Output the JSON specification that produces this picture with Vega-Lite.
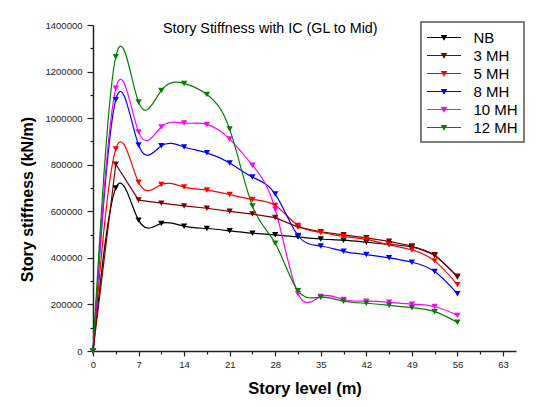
{
  "$schema": "https://vega.github.io/schema/vega-lite/v6.json",
  "width": 423,
  "height": 326,
  "autosize": {"type": "none"},
  "padding": {"left": 93, "top": 25, "right": 29, "bottom": 56},
  "background": "white",
  "config": {
    "view": {"stroke": null},
    "font": "Liberation Sans",
    "legend": {"strokeWidth": 1.5}
  },
  "title": {
    "text": "Story Stiffness with IC (GL to Mid)",
    "frame": "group",
    "anchor": "start",
    "dx": 70,
    "offset": 0,
    "baseline": "alphabetic",
    "dy": 27,
    "fontSize": 14.3,
    "fontWeight": "normal",
    "color": "#000000",
    "font": "Liberation Sans"
  },
  "data": {
    "values": [
      {"s": "NB", "x": 0, "y": 0}, {"s": "NB", "x": 3.5, "y": 700000}, {"s": "NB", "x": 7, "y": 562000}, {"s": "NB", "x": 10.5, "y": 548000}, {"s": "NB", "x": 14, "y": 536000}, {"s": "NB", "x": 17.5, "y": 526000}, {"s": "NB", "x": 21, "y": 516000}, {"s": "NB", "x": 24.5, "y": 506000}, {"s": "NB", "x": 28, "y": 499000}, {"s": "NB", "x": 31.5, "y": 490000}, {"s": "NB", "x": 35, "y": 481000}, {"s": "NB", "x": 38.5, "y": 476000}, {"s": "NB", "x": 42, "y": 467000}, {"s": "NB", "x": 45.5, "y": 458000}, {"s": "NB", "x": 49, "y": 447000}, {"s": "NB", "x": 52.5, "y": 410000}, {"s": "NB", "x": 56, "y": 318000},
      {"s": "3 MH", "x": 0, "y": 0}, {"s": "3 MH", "x": 3.5, "y": 802000}, {"s": "3 MH", "x": 7, "y": 648000}, {"s": "3 MH", "x": 10.5, "y": 635000}, {"s": "3 MH", "x": 14, "y": 623000}, {"s": "3 MH", "x": 17.5, "y": 613000}, {"s": "3 MH", "x": 21, "y": 600000}, {"s": "3 MH", "x": 24.5, "y": 588000}, {"s": "3 MH", "x": 28, "y": 573000}, {"s": "3 MH", "x": 31.5, "y": 532000}, {"s": "3 MH", "x": 35, "y": 512000}, {"s": "3 MH", "x": 38.5, "y": 499000}, {"s": "3 MH", "x": 42, "y": 486000}, {"s": "3 MH", "x": 45.5, "y": 471000}, {"s": "3 MH", "x": 49, "y": 451000}, {"s": "3 MH", "x": 52.5, "y": 413000}, {"s": "3 MH", "x": 56, "y": 321000},
      {"s": "5 MH", "x": 0, "y": 0}, {"s": "5 MH", "x": 3.5, "y": 867000}, {"s": "5 MH", "x": 7, "y": 725000}, {"s": "5 MH", "x": 10.5, "y": 715000}, {"s": "5 MH", "x": 14, "y": 704000}, {"s": "5 MH", "x": 17.5, "y": 691000}, {"s": "5 MH", "x": 21, "y": 672000}, {"s": "5 MH", "x": 24.5, "y": 651000}, {"s": "5 MH", "x": 28, "y": 625000}, {"s": "5 MH", "x": 31.5, "y": 539000}, {"s": "5 MH", "x": 35, "y": 509000}, {"s": "5 MH", "x": 38.5, "y": 492000}, {"s": "5 MH", "x": 42, "y": 479000}, {"s": "5 MH", "x": 45.5, "y": 456000}, {"s": "5 MH", "x": 49, "y": 434000}, {"s": "5 MH", "x": 52.5, "y": 387000}, {"s": "5 MH", "x": 56, "y": 285000},
      {"s": "8 MH", "x": 0, "y": 0}, {"s": "8 MH", "x": 3.5, "y": 1079000}, {"s": "8 MH", "x": 7, "y": 885000}, {"s": "8 MH", "x": 10.5, "y": 881000}, {"s": "8 MH", "x": 14, "y": 876000}, {"s": "8 MH", "x": 17.5, "y": 851000}, {"s": "8 MH", "x": 21, "y": 807000}, {"s": "8 MH", "x": 24.5, "y": 747000}, {"s": "8 MH", "x": 28, "y": 674000}, {"s": "8 MH", "x": 31.5, "y": 496000}, {"s": "8 MH", "x": 35, "y": 451000}, {"s": "8 MH", "x": 38.5, "y": 428000}, {"s": "8 MH", "x": 42, "y": 414000}, {"s": "8 MH", "x": 45.5, "y": 400000}, {"s": "8 MH", "x": 49, "y": 381000}, {"s": "8 MH", "x": 52.5, "y": 341000}, {"s": "8 MH", "x": 56, "y": 246000},
      {"s": "10 MH", "x": 0, "y": 0}, {"s": "10 MH", "x": 3.5, "y": 1128000}, {"s": "10 MH", "x": 7, "y": 941000}, {"s": "10 MH", "x": 10.5, "y": 962000}, {"s": "10 MH", "x": 14, "y": 979000}, {"s": "10 MH", "x": 17.5, "y": 973000}, {"s": "10 MH", "x": 21, "y": 910000}, {"s": "10 MH", "x": 24.5, "y": 798000}, {"s": "10 MH", "x": 28, "y": 609000}, {"s": "10 MH", "x": 31.5, "y": 246000}, {"s": "10 MH", "x": 35, "y": 234000}, {"s": "10 MH", "x": 38.5, "y": 221000}, {"s": "10 MH", "x": 42, "y": 214000}, {"s": "10 MH", "x": 45.5, "y": 209000}, {"s": "10 MH", "x": 49, "y": 201000}, {"s": "10 MH", "x": 52.5, "y": 191000}, {"s": "10 MH", "x": 56, "y": 153000},
      {"s": "12 MH", "x": 0, "y": 0}, {"s": "12 MH", "x": 3.5, "y": 1264000}, {"s": "12 MH", "x": 7, "y": 1069000}, {"s": "12 MH", "x": 10.5, "y": 1119000}, {"s": "12 MH", "x": 14, "y": 1149000}, {"s": "12 MH", "x": 17.5, "y": 1102000}, {"s": "12 MH", "x": 21, "y": 953000}, {"s": "12 MH", "x": 24.5, "y": 623000}, {"s": "12 MH", "x": 28, "y": 463000}, {"s": "12 MH", "x": 31.5, "y": 259000}, {"s": "12 MH", "x": 35, "y": 231000}, {"s": "12 MH", "x": 38.5, "y": 214000}, {"s": "12 MH", "x": 42, "y": 205000}, {"s": "12 MH", "x": 45.5, "y": 196000}, {"s": "12 MH", "x": 49, "y": 186000}, {"s": "12 MH", "x": 52.5, "y": 169000}, {"s": "12 MH", "x": 56, "y": 123000}
    ]
  },
  "encoding": {
    "x": {
      "field": "x",
      "type": "quantitative",
      "scale": {"domain": [0, 65], "nice": false, "zero": false},
      "axis": {
        "title": "Story level (m)",
        "values": [0, 3.5, 7, 10.5, 14, 17.5, 21, 24.5, 28, 31.5, 35, 38.5, 42, 45.5, 49, 52.5, 56, 59.5, 63],
        "labelExpr": "datum.value % 7 === 0 ? datum.label : ''",
        "grid": false,
        "domainColor": "#222222",
        "domainWidth": 1.5,
        "tickColor": "#222222",
        "tickWidth": 1.2,
        "tickSize": {"condition": {"test": "datum.value % 7 === 0", "value": 5}, "value": 3},
        "labelFontSize": 9.5,
        "labelColor": "#222222",
        "labelPadding": 3,
        "labelFlush": false,
        "labelOverlap": false,
        "titleFontSize": 16.5,
        "titleFontWeight": "bold",
        "titleColor": "#000000",
        "titleBaseline": "alphabetic",
        "titleY": 42
      }
    },
    "y": {
      "field": "y",
      "type": "quantitative",
      "scale": {"domain": [0, 1400000], "nice": false},
      "axis": {
        "title": "Story stiffness (kN/m)",
        "values": [0, 100000, 200000, 300000, 400000, 500000, 600000, 700000, 800000, 900000, 1000000, 1100000, 1200000, 1300000, 1400000],
        "format": "d",
        "labelExpr": "datum.value % 200000 === 0 ? datum.label : ''",
        "grid": false,
        "domainColor": "#222222",
        "domainWidth": 1.5,
        "tickColor": "#222222",
        "tickWidth": 1.2,
        "tickSize": {"condition": {"test": "datum.value % 200000 === 0", "value": 6}, "value": 3},
        "labelFontSize": 9.5,
        "labelColor": "#222222",
        "labelPadding": 5,
        "labelFlush": false,
        "labelOverlap": false,
        "titleFontSize": 16,
        "titleFontWeight": "bold",
        "titleColor": "#000000",
        "titleBaseline": "alphabetic",
        "titleX": -61,
        "titleY": 174
      }
    },
    "color": {
      "field": "s",
      "type": "nominal",
      "scale": {
        "domain": ["NB", "3 MH", "5 MH", "8 MH", "10 MH", "12 MH"],
        "range": ["#000000", "#800000", "#FF0000", "#0000FF", "#FF00FF", "#008000"]
      },
      "legend": {
        "title": null,
        "orient": "none",
        "legendX": 328,
        "legendY": -3,
        "padding": 6,
        "strokeColor": "#555555",
        "fillColor": "white",
        "symbolType": "M-2,0L2,0M-0.27,-0.22L0.27,-0.22L0,0.25Z",
        "symbolSize": 289,
        "symbolStrokeWidth": 1.2,
        "symbolOffset": 7.5,
        "labelOffset": 20,
        "labelFontSize": 15,
        "labelFont": "Liberation Sans",
        "labelColor": "#000000",
        "rowPadding": 0,
        "encode": {
          "symbols": {
            "update": {
              "fill": {"scale": "color", "field": "value"},
              "stroke": {"scale": "color", "field": "value"},
              "opacity": {"value": 1}
            }
          }
        }
      }
    }
  },
  "layer": [
    {
      "transform": [{"filter": "datum.s !== '3 MH'"}],
      "mark": {"type": "line", "interpolate": "natural", "strokeWidth": 1.2}
    },
    {
      "transform": [{"filter": "datum.s === '3 MH'"}],
      "mark": {"type": "line", "interpolate": "linear", "strokeWidth": 1.2}
    },
    {
      "mark": {"type": "point", "shape": "triangle-down", "filled": true, "size": 40, "opacity": 1}
    }
  ]
}
